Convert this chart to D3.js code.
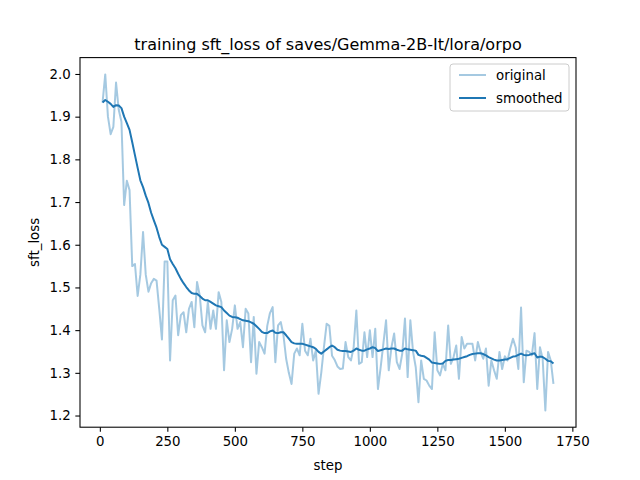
<!DOCTYPE html>
<html>
<head>
<meta charset="utf-8">
<script src="https://cdn.jsdelivr.net/npm/d3@7"></script>
<style>
  body { margin: 0; background: #fff; }
  text { font-family: 'DejaVu Sans', sans-serif; fill: #000; }
</style>
</head>
<body>
<svg id="chart" width="640" height="480"></svg>
<script>
'use strict';

/* ── data ────────────────────────────────── */
const steps = d3.range(10, 1681, 10);

const original = [
  1.933, 1.999, 1.900, 1.859, 1.876, 1.980, 1.916, 1.888, 1.693, 1.750,
  1.728, 1.550, 1.555, 1.480, 1.530, 1.630, 1.530, 1.490, 1.510, 1.520,
  1.516, 1.450, 1.378, 1.561, 1.561, 1.329, 1.470, 1.481, 1.388, 1.435,
  1.442, 1.395, 1.450, 1.466, 1.407, 1.513, 1.481, 1.411, 1.395, 1.466,
  1.403, 1.446, 1.403, 1.489, 1.466, 1.306, 1.423, 1.372, 1.403, 1.458,
  1.403, 1.419, 1.360, 1.450, 1.439, 1.325, 1.431, 1.298, 1.372, 1.360,
  1.345, 1.410, 1.440, 1.454, 1.325, 1.411, 1.419, 1.388, 1.333, 1.300,
  1.274, 1.345, 1.357, 1.341, 1.415, 1.352, 1.341, 1.380, 1.329, 1.352,
  1.251, 1.300, 1.360, 1.415, 1.410, 1.340, 1.330, 1.315, 1.309, 1.310,
  1.372, 1.337, 1.329, 1.360, 1.446, 1.321, 1.325, 1.395, 1.337, 1.400,
  1.337, 1.403, 1.262, 1.313, 1.368, 1.423, 1.306, 1.360, 1.392, 1.325,
  1.309, 1.345, 1.427, 1.290, 1.423, 1.349, 1.313, 1.231, 1.329, 1.286,
  1.282, 1.270, 1.262, 1.395, 1.306, 1.294, 1.321, 1.306, 1.411, 1.321,
  1.337, 1.364, 1.286, 1.384, 1.357, 1.368, 1.368, 1.368, 1.329, 1.372,
  1.349, 1.333, 1.357, 1.270, 1.329, 1.306, 1.286, 1.349, 1.309, 1.339,
  1.329, 1.357, 1.380, 1.360, 1.309, 1.453, 1.278, 1.352, 1.349, 1.341,
  1.393, 1.262, 1.360, 1.333, 1.212, 1.349, 1.329, 1.274
];

const smoothed = [
  1.933, 1.939, 1.935, 1.930, 1.923, 1.927, 1.926, 1.920, 1.900, 1.885,
  1.869, 1.840, 1.810, 1.780, 1.751, 1.735, 1.715, 1.698, 1.675, 1.657,
  1.640, 1.618, 1.600, 1.595, 1.590, 1.566, 1.555, 1.545, 1.532, 1.520,
  1.510, 1.501, 1.493, 1.487, 1.485, 1.485, 1.480, 1.474, 1.470, 1.470,
  1.466, 1.462, 1.458, 1.456, 1.454, 1.446, 1.440, 1.434, 1.431, 1.430,
  1.429, 1.426, 1.423, 1.422, 1.421, 1.418, 1.415, 1.409, 1.403, 1.396,
  1.393, 1.393, 1.397, 1.399, 1.394, 1.393, 1.395, 1.395, 1.388, 1.380,
  1.372, 1.369, 1.368, 1.368, 1.368, 1.366, 1.364, 1.362, 1.360, 1.356,
  1.349, 1.345, 1.350, 1.355, 1.360, 1.364, 1.360, 1.354, 1.352, 1.351,
  1.351, 1.350, 1.349, 1.352, 1.357, 1.354, 1.352, 1.352, 1.355, 1.357,
  1.360, 1.358, 1.351, 1.353, 1.355, 1.357, 1.356, 1.357, 1.357, 1.354,
  1.352, 1.352, 1.357, 1.355, 1.354, 1.353, 1.352, 1.342, 1.340, 1.339,
  1.335, 1.331, 1.324, 1.323, 1.322, 1.321, 1.322, 1.328, 1.330, 1.330,
  1.331, 1.332, 1.333, 1.335, 1.337, 1.339, 1.342, 1.344, 1.345, 1.346,
  1.346, 1.344, 1.341, 1.337, 1.334, 1.331, 1.329, 1.329, 1.330, 1.331,
  1.332, 1.335, 1.338, 1.339, 1.342, 1.345, 1.342, 1.341, 1.342, 1.344,
  1.346, 1.336, 1.338, 1.337, 1.333, 1.328, 1.327, 1.322
];

const xTicks = [0, 250, 500, 750, 1000, 1250, 1500, 1750];
const yTicks = [1.2, 1.3, 1.4, 1.5, 1.6, 1.7, 1.8, 1.9, 2.0];
const seriesNames = ['original', 'smoothed'];

/* ── layout ──────────────────────────────── */
const W = 640, H = 480;
const L = 80, R = 576, T = 57.6, B = 427.2;
const blue = '#1f77b4';

const svg = d3.select('#chart');

// matplotlib-style 5% margins
const xExt = d3.extent(steps);
const xPad = (xExt[1] - xExt[0]) * 0.05;
const yExt = d3.extent(original.concat(smoothed));
const yPad = (yExt[1] - yExt[0]) * 0.05;

const x = d3.scaleLinear().domain([xExt[0] - xPad, xExt[1] + xPad]).range([L, R]);
const y = d3.scaleLinear().domain([yExt[0] - yPad, yExt[1] + yPad]).range([B, T]);

/* ── lines ───────────────────────────────── */
const line = d3.line().x((d, i) => x(steps[i])).y(d => y(d));

svg.append('defs').append('clipPath').attr('id', 'clip')
  .append('rect').attr('x', L).attr('y', T).attr('width', R - L).attr('height', B - T);

const plot = svg.append('g').attr('clip-path', 'url(#clip)');
plot.append('path').datum(original)
  .attr('d', line).attr('fill', 'none')
  .attr('stroke', blue).attr('stroke-opacity', 0.4)
  .attr('stroke-width', 2).attr('stroke-linejoin', 'round');
plot.append('path').datum(smoothed)
  .attr('d', line).attr('fill', 'none')
  .attr('stroke', blue).attr('stroke-width', 2).attr('stroke-linejoin', 'round');

/* ── axes ────────────────────────────────── */
const xAxis = svg.append('g').attr('transform', `translate(0,${B})`)
  .call(d3.axisBottom(x).tickValues(xTicks).tickFormat(d3.format('d')).tickSize(4.67).tickPadding(4.67));
const yAxis = svg.append('g').attr('transform', `translate(${L},0)`)
  .call(d3.axisLeft(y).tickValues(yTicks).tickFormat(d3.format('.1f')).tickSize(4.67).tickPadding(4.67));

[xAxis, yAxis].forEach(a => {
  a.select('.domain').remove();
  a.selectAll('.tick line').attr('stroke', '#000').attr('stroke-width', 1.07);
  a.selectAll('.tick text').attr('font-size', '13.33px').attr('font-family', "'DejaVu Sans', sans-serif").attr('fill', '#000');
});

// frame
svg.append('rect').attr('x', L).attr('y', T).attr('width', R - L).attr('height', B - T)
  .attr('fill', 'none').attr('stroke', '#000').attr('stroke-width', 1.07);

/* ── labels ──────────────────────────────── */
svg.append('text').attr('x', (L + R) / 2).attr('y', 49.6)
  .attr('text-anchor', 'middle').attr('font-size', '16px')
  .text('training sft_loss of saves/Gemma-2B-It/lora/orpo');

svg.append('text').attr('x', (L + R) / 2).attr('y', 470)
  .attr('text-anchor', 'middle').attr('font-size', '13.33px').text('step');

svg.append('text').attr('transform', `translate(39,${(T + B) / 2}) rotate(-90)`)
  .attr('text-anchor', 'middle').attr('font-size', '13.33px').text('sft_loss');

/* ── legend ──────────────────────────────── */
const lg = svg.append('g').attr('transform', 'translate(450,64)');
lg.append('rect').attr('width', 119).attr('height', 47).attr('rx', 3)
  .attr('fill', '#fff').attr('fill-opacity', 0.8).attr('stroke', '#cccccc').attr('stroke-width', 1);
seriesNames.forEach((name, i) => {
  const cy = 11 + i * 23;
  lg.append('line').attr('x1', 9).attr('x2', 36).attr('y1', cy).attr('y2', cy)
    .attr('stroke', blue).attr('stroke-width', 2).attr('stroke-opacity', i === 0 ? 0.4 : 1);
  lg.append('text').attr('x', 46).attr('y', cy).attr('dy', '0.35em')
    .attr('font-size', '13.33px').text(name);
});
</script>
</body>
</html>
